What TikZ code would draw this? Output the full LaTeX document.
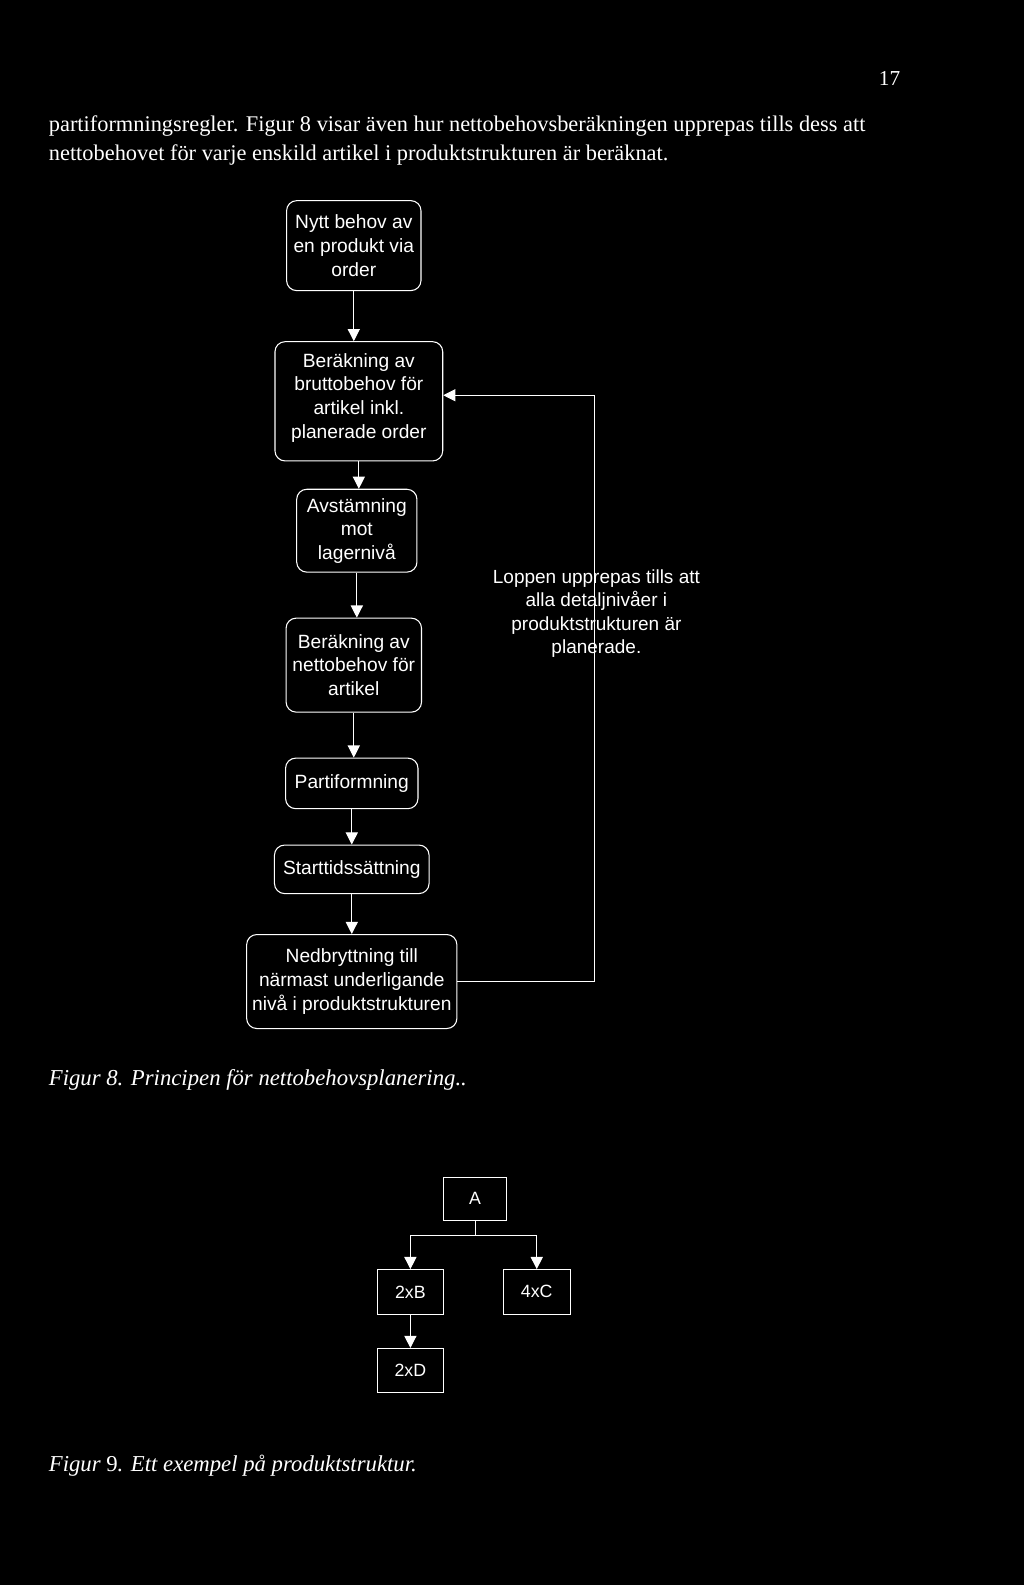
\documentclass[tikz,border=0pt]{standalone}
\usepackage{fontspec}
\setmainfont{Liberation Serif}
\newfontfamily\boxfont{Liberation Sans}
\usetikzlibrary{arrows.meta}

\begin{document}
\begin{tikzpicture}[
  x=0.02cm,y=-0.02cm,
  every node/.style={text=white},
  flow/.style={draw=white,rounded corners=0.2cm,align=center,line width=0.6pt,inner sep=1pt,
    font=\boxfont\fontsize{10.8}{13.3}\selectfont},
  part/.style={draw=white,align=center,line width=0.6pt,minimum width=1.32cm,minimum height=0.88cm,
    font=\boxfont\fontsize{10}{12}\selectfont},
  arr/.style={-{Triangle[length=2.4mm,width=2.4mm,fill=white]},draw=white,line width=0.6pt},
  body/.style={anchor=west,inner sep=0pt,font=\fontsize{12.6}{14}\selectfont},
  capt/.style={anchor=west,inner sep=0pt,font=\fontsize{12.8}{15}\selectfont\itshape}
]
  \fill[black] (0,0) rectangle (1013,1568);
  \useasboundingbox (0,0) rectangle (1013,1568);

  % page text
  \node[inner sep=0pt,font=\fontsize{12}{14}\selectfont] (pagenr) at (880,78) {17};
  \node[body] (line1) at (48,125) {partiformningsregler. Figur 8 visar även hur nettobehovsberäkningen upprepas tills dess att};
  \node[body] (line2) at (48,153) {nettobehovet för varje enskild artikel i produktstrukturen är beräknat.};

  % figur 8
  \node[flow,minimum width=2.66cm,minimum height=1.78cm] (nytt) at (350,243) {Nytt behov av\\en produkt via\\order};
  \node[flow,minimum width=3.32cm,minimum height=2.36cm] (brutto) at (355,397) {Beräkning av\\bruttobehov för\\artikel inkl.\\planerade order\\[-0.25cm]};
  \node[flow,minimum width=2.38cm,minimum height=1.64cm] (avst) at (353,525) {Avstämning\\mot\\lagernivå};
  \node[flow,minimum width=2.68cm,minimum height=1.86cm] (netto) at (350,658) {Beräkning av\\nettobehov för\\artikel};
  \node[flow,minimum width=2.62cm,minimum height=1.0cm] (parti) at (348,775) {Partiformning};
  \node[flow,minimum width=3.06cm,minimum height=0.96cm] (start) at (348,860) {Starttidssättning};
  \node[flow,minimum width=4.16cm,minimum height=1.86cm] (nedbr) at (348,971) {Nedbryttning till\\närmast underligande\\nivå i produktstrukturen};

  \draw[arr] (nytt) -- (nytt |- brutto.north);
  \draw[arr] (brutto) -- (brutto |- avst.north);
  \draw[arr] (avst) -- (avst |- netto.north);
  \draw[arr] (netto) -- (netto |- parti.north);
  \draw[arr] (parti) -- (parti |- start.north);
  \draw[arr] (start) -- (start |- nedbr.north);

  \coordinate (loop) at (588,391);
  \draw[arr] (nedbr.east) -| (loop) -- (brutto.east |- loop);
  \node[align=center,font=\boxfont\fontsize{10.7}{13}\selectfont] (loopnote) at (590,607)
    {Loppen upprepas tills att\\alla detaljnivåer i\\produktstrukturen är\\planerade.};

  \node[capt] (capt8) at (48,1068) {Figur 8. Principen för nettobehovsplanering..};

  % figur 9
  \node[part,minimum width=1.26cm,minimum height=0.86cm] (A) at (470,1186) {A};
  \node[part] (B) at (406,1278) {2xB};
  \node[part] (C) at (531,1278) {4xC};
  \node[part] (D) at (406,1356) {2xD};
  \coordinate (split) at (470,1222);
  \draw[white,line width=0.6pt] (A) -- (split);
  \draw[arr] (split) -| (B.north);
  \draw[arr] (split) -| (C.north);
  \draw[arr] (B) -- (D);

  \node[capt] (capt9) at (48,1450) {Figur {\upshape 9}. Ett exempel på produktstruktur.};
\end{tikzpicture}
\end{document}
